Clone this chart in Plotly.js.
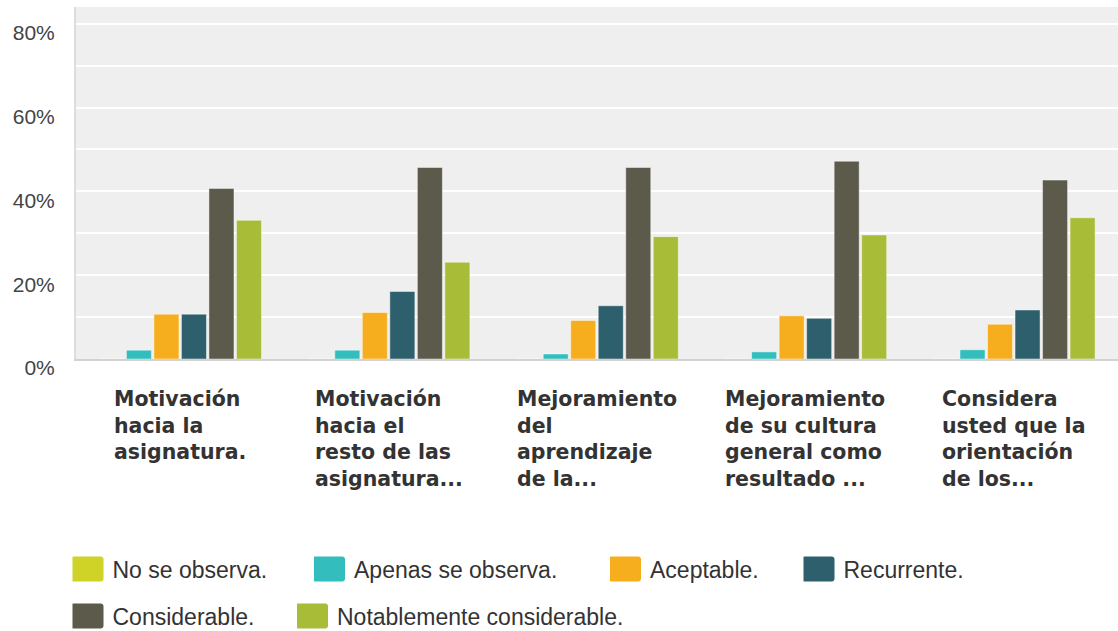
<!DOCTYPE html>
<html>
<head>
<meta charset="utf-8">
<script src="https://cdn.plot.ly/plotly-3.0.1.min.js"></script>
<style>
  html, body { margin: 0; padding: 0; background: #ffffff; }
  #chart { width: 1118px; height: 631px; }
</style>
</head>
<body>
<div id="chart"></div>
<script>
// ---- data ----
const categories = [
  "Motivación<br>hacia la<br>asignatura.",
  "Motivación<br>hacia el<br>resto de las<br>asignatura...",
  "Mejoramiento<br>del<br>aprendizaje<br>de la...",
  "Mejoramiento<br>de su cultura<br>general como<br>resultado ...",
  "Considera<br>usted que la<br>orientación<br>de los..."
];
const seriesNames = [
  "No se observa.",
  "Apenas se observa.",
  "Aceptable.",
  "Recurrente.",
  "Considerable.",
  "Notablemente considerable."
];
const noSeObserva   = [0, 0, 0, 0, 0];
const apenas        = [2.1, 2.1, 1.2, 1.7, 2.2];
const aceptable     = [10.7, 11.1, 9.2, 10.3, 8.3];
const recurrente    = [10.7, 16.1, 12.7, 9.7, 11.7];
const considerable  = [40.7, 45.7, 45.7, 47.2, 42.7];
const notablemente  = [33.1, 23.1, 29.2, 29.6, 33.7];
const yTickVals  = [0, 20, 40, 60, 80];
const yTickText  = ["0%", "20%", "40%", "60%", "80%"];

// ---- styling ----
const colors = ["#D0D327", "#33BDBD", "#F6AE1F", "#2E5F6D", "#5C5A4A", "#A9BC38"];
const seriesValues = [noSeObserva, apenas, aceptable, recurrente, considerable, notablemente];
const legendIds = ["legend", "legend2", "legend3", "legend4", "legend5", "legend6"];

const traces = seriesValues.map((vals, i) => ({
  type: "bar",
  name: seriesNames[i],
  x: categories,
  y: vals,
  legend: legendIds[i],
  marker: { color: colors[i], line: { color: "rgba(255,255,255,0.45)", width: 1 } },
  hoverinfo: "none"
}));

// plot area: x 76..1118, y 7..359
const L = 76, W = 1042, T = 7, H = 352;
const px2x = p => (p - L) / W;
const px2y = p => (T + H - p) / H;

// legend swatch centres (px)
const legendPos = [
  [87.5, 569], [329, 569], [625, 569], [818.5, 569],
  [87.5, 616], [312, 616]
];
const legendFont = { family: "Liberation Sans, Arial, sans-serif", size: 23, color: "#333333" };

const layout = {
  width: 1118, height: 631,
  margin: { l: L, r: 0, t: T, b: 631 - T - H, pad: 0, autoexpand: false },
  paper_bgcolor: "#ffffff",
  plot_bgcolor: "#efefef",
  barmode: "group",
  bargap: 0.208,
  bargroupgap: 0.09,
  showlegend: true,
  xaxis: {
    type: "category",
    showticklabels: false,
    ticks: "",
    showgrid: false,
    zeroline: false,
    showline: true,
    linecolor: "#d2d2d2",
    linewidth: 2,
    fixedrange: true
  },
  yaxis: {
    range: [0, 84],
    tickmode: "array",
    tickvals: yTickVals,
    ticktext: yTickText,
    ticks: "",
    showgrid: true,
    gridcolor: "#ffffff",
    gridwidth: 2,
    minor: { dtick: 10, showgrid: true, gridcolor: "#ffffff", gridwidth: 2, ticks: "" },
    zeroline: false,
    showline: true,
    linecolor: "#dddddd",
    linewidth: 2,
    ticklabelstandoff: 15,
    ticklabelshift: 9,
    tickfont: { family: "Liberation Sans, Arial, sans-serif", size: 21, color: "#444444" },
    fixedrange: true
  },
  annotations: categories.map(c => ({
    x: c, xref: "x",
    y: 0, yref: "paper",
    xanchor: "center", yanchor: "top",
    yshift: -26,
    align: "left",
    showarrow: false,
    text: c,
    font: { family: "DejaVu Sans, sans-serif", size: 20.5, weight: "bold", color: "#333333" }
  }))
};

legendIds.forEach((id, i) => {
  layout[id] = {
    x: px2x(legendPos[i][0] - 15),
    y: px2y(legendPos[i][1]),
    xanchor: "left",
    yanchor: "middle",
    orientation: "h",
    bgcolor: "rgba(0,0,0,0)",
    borderwidth: 0,
    itemwidth: 30,
    itemclick: false,
    itemdoubleclick: false,
    font: legendFont
  };
});

Plotly.newPlot("chart", traces, layout, { displayModeBar: false, staticPlot: true }).then(gd => {
  // enlarge legend swatches to match the reference's rounded rectangles
  const w = 33, h = 25, r = 3;
  const d = `M${-w/2 + r},${-h/2}H${w/2 - r}Q${w/2},${-h/2} ${w/2},${-h/2 + r}V${h/2 - r}Q${w/2},${h/2} ${w/2 - r},${h/2}H${-w/2 + r}Q${-w/2},${h/2} ${-w/2},${h/2 - r}V${-h/2 + r}Q${-w/2},${-h/2} ${-w/2 + r},${-h/2}Z`;
  gd.querySelectorAll(".legendpoints path").forEach(p => {
    p.setAttribute("d", d);
    const t = p.getAttribute("transform") || "";
    p.setAttribute("transform", t + " translate(-5.5,0)");
    p.style.strokeWidth = "0";
  });
});
</script>
</body>
</html>
